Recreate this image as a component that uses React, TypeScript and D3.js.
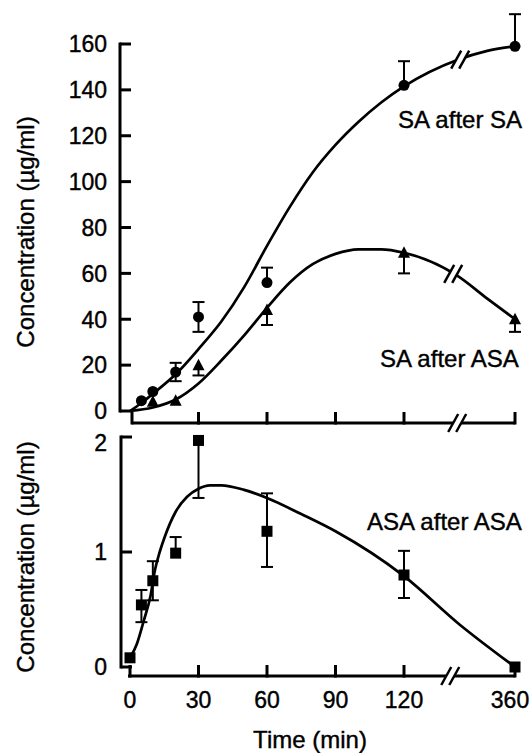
import React from 'react';
import * as d3 from 'd3';

const W = 531;
const H = 753;

const xTicks = [0, 30, 60, 90, 120, 360];
const topYTicks = [0, 20, 40, 60, 80, 100, 120, 140, 160];
const bottomYTicks = [0, 1, 2];

// SA after SA (circles)
const saSaTime = [5, 10, 20, 30, 60, 120, 360];
const saSaMean = [4.5, 8.5, 17, 41, 56, 142, 159];
const saSaErrUp = [0, 0, 4, 6.5, 6.5, 10.5, 14];
const saSaErrDown = [0, 0, 4, 6.5, 0, 0, 0];

// SA after ASA (triangles)
const saAsaTime = [10, 20, 30, 60, 120, 360];
const saAsaMean = [4, 4.5, 20, 44, 69, 40];
const saAsaErrUp = [0, 0, 0, 0, 0, 0];
const saAsaErrDown = [0, 0, 4.5, 6.5, 9, 5.5];

// ASA after ASA (squares)
const asaTime = [0, 5, 10, 20, 30, 60, 120, 360];
const asaMean = [0.08, 0.54, 0.75, 0.99, 1.97, 1.18, 0.8, 0];
const asaErrUp = [0, 0.13, 0.17, 0.14, 0, 0.33, 0.21, 0];
const asaErrDown = [0, 0.15, 0.17, 0, 0.5, 0.31, 0.2, 0];

// fitted curves
const saSaFitTime = [0, 5, 10, 20, 30, 40, 50, 60, 70, 80, 90, 100, 110, 120, 235, 300, 360];
const saSaFitValue = [0, 3.5, 7.5, 16, 27, 39, 54, 72, 89, 104, 116, 126, 134.5, 141.5, 153, 157, 159];

const saAsaFitTime = [0, 10, 20, 30, 40, 50, 60, 70, 80, 90, 100, 110, 120, 235, 300, 360];
const saAsaFitValue = [0, 1.5, 5, 12, 22, 33, 45, 56, 64, 68.5, 70.5, 70.5, 69, 59, 49, 40];

const asaFitTime = [0, 3, 6, 9, 11, 13, 15, 20, 25, 30, 35, 40, 50, 60, 75, 90, 120, 240, 360];
const asaFitValue = [0.08, 0.2, 0.4, 0.62, 0.85, 1.0, 1.12, 1.35, 1.48, 1.55, 1.58, 1.58, 1.54, 1.47, 1.33, 1.18, 0.79, 0.37, 0];

const FONT = '"Liberation Sans", Arial, Helvetica, sans-serif';

const x = d3.scaleLinear().domain([0, 120, 360]).range([130, 404, 515]);
const yTop = d3.scaleLinear().domain([0, 160]).range([411, 44]);
const yBot = d3.scaleLinear().domain([0, 2]).range([667, 437]);

const topAxisY = 423;
const botAxisY = 676;
const topAxisX = 120;
const botAxisX = 121;

function fitPath(ts: number[], vs: number[], y: d3.ScaleLinear<number, number>) {
  const line = d3
    .line<number>()
    .x((d, i) => x(ts[i]))
    .y((d) => y(d))
    .curve(d3.curveMonotoneX);
  return line(vs) || '';
}

// break mark "//" with white gap
function BreakMark({ cx, cy }: { cx: number; cy: number }) {
  const dx = 5, dy = 9, gap = 4;
  const l1 = [cx - gap - dx, cy + dy, cx - gap + dx, cy - dy];
  const l2 = [cx + gap - dx, cy + dy, cx + gap + dx, cy - dy];
  return (
    <g>
      <polygon
        points={`${l1[0]},${l1[1]} ${l1[2]},${l1[3]} ${l2[2]},${l2[3]} ${l2[0]},${l2[1]}`}
        fill="white"
        stroke="white"
        strokeWidth={1}
      />
      <line x1={l1[0]} y1={l1[1]} x2={l1[2]} y2={l1[3]} stroke="black" strokeWidth={2.5} />
      <line x1={l2[0]} y1={l2[1]} x2={l2[2]} y2={l2[3]} stroke="black" strokeWidth={2.5} />
    </g>
  );
}

function ErrorBars({ ts, ms, up, down, y }: any) {
  return (
    <g stroke="black" strokeWidth={2}>
      {ts.map((t: number, i: number) => {
        const cx = x(t);
        const out: any[] = [];
        if (up[i] > 0) {
          out.push(<line key={'u' + i} x1={cx} x2={cx} y1={y(ms[i])} y2={y(ms[i] + up[i])} />);
          out.push(<line key={'uc' + i} x1={cx - 6} x2={cx + 6} y1={y(ms[i] + up[i])} y2={y(ms[i] + up[i])} />);
        }
        if (down[i] > 0) {
          out.push(<line key={'d' + i} x1={cx} x2={cx} y1={y(ms[i])} y2={y(ms[i] - down[i])} />);
          out.push(<line key={'dc' + i} x1={cx - 6} x2={cx + 6} y1={y(ms[i] - down[i])} y2={y(ms[i] - down[i])} />);
        }
        return <g key={i}>{out}</g>;
      })}
    </g>
  );
}

export default function App() {
  const topBreakX = x(235);
  const botBreakX = x(220);

  return (
    <svg
      width={W}
      height={H}
      viewBox={`0 0 ${W} ${H}`}
      style={{ position: 'absolute', left: 0, top: 0, background: 'white' }}
      fontFamily={FONT}
    >
      <rect x={0} y={0} width={W} height={H} fill="white" />

      {/* ---------- top panel ---------- */}
      <g stroke="black" strokeWidth={3} fill="none">
        <line x1={topAxisX} x2={topAxisX} y1={yTop(160) - 1.5} y2={yTop(0) + 1.5} />
        {topYTicks.map((v) => (
          <line key={v} x1={topAxisX} x2={topAxisX + 11} y1={yTop(v)} y2={yTop(v)} />
        ))}
        <line x1={x(0) + 2} x2={x(360)} y1={topAxisY} y2={topAxisY} />
        {xTicks.map((t) => (
          <line key={t} x1={x(t) + (t === 0 ? 2 : 0)} x2={x(t) + (t === 0 ? 2 : 0)} y1={topAxisY + 1.5} y2={topAxisY - 11} />
        ))}
      </g>

      <g fill="black" stroke="black" strokeWidth={0.4}>
        <g fontSize={23} textAnchor="end">
          {topYTicks.map((v) => (
            <text key={v} x={107} y={yTop(v)} dy="0.36em">
              {v}
            </text>
          ))}
        </g>
      </g>

      <path d={fitPath(saSaFitTime, saSaFitValue, yTop)} fill="none" stroke="black" strokeWidth={2.7} />
      <path d={fitPath(saAsaFitTime, saAsaFitValue, yTop)} fill="none" stroke="black" strokeWidth={2.7} />

      <ErrorBars ts={saSaTime} ms={saSaMean} up={saSaErrUp} down={saSaErrDown} y={yTop} />
      <ErrorBars ts={saAsaTime} ms={saAsaMean} up={saAsaErrUp} down={saAsaErrDown} y={yTop} />

      {saSaTime.map((t, i) => (
        <circle key={t} cx={x(t)} cy={yTop(saSaMean[i])} r={5.5} fill="black" />
      ))}
      {saAsaTime.map((t, i) => {
        const cx = x(t);
        const cy = yTop(saAsaMean[i]);
        return <path key={t} d={`M${cx},${cy - 6.5} L${cx + 6},${cy + 5} L${cx - 6},${cy + 5} Z`} fill="black" />;
      })}

      <BreakMark cx={topBreakX} cy={topAxisY} />
      <BreakMark cx={topBreakX + 3} cy={yTop(d3.scaleLinear().domain(saSaFitTime).range(saSaFitValue)(238))} />
      <BreakMark cx={topBreakX - 4} cy={yTop(d3.scaleLinear().domain(saAsaFitTime).range(saAsaFitValue)(226))} />

      {/* ---------- bottom panel ---------- */}
      <g stroke="black" strokeWidth={3} fill="none">
        <line x1={botAxisX} x2={botAxisX} y1={yBot(2) - 1.5} y2={yBot(0) + 1.5} />
        {bottomYTicks.map((v) => (
          <line key={v} x1={botAxisX} x2={botAxisX + 11} y1={yBot(v)} y2={yBot(v)} />
        ))}
        <line x1={x(0) - 2} x2={x(360)} y1={botAxisY} y2={botAxisY} />
        {xTicks.map((t) => (
          <line key={t} x1={x(t)} x2={x(t)} y1={botAxisY + 1.5} y2={botAxisY - 11} />
        ))}
      </g>

      <path d={fitPath(asaFitTime, asaFitValue, yBot)} fill="none" stroke="black" strokeWidth={2.7} />
      <ErrorBars ts={asaTime} ms={asaMean} up={asaErrUp} down={asaErrDown} y={yBot} />
      {asaTime.map((t, i) => (
        <rect key={t} x={x(t) - 5.5} y={yBot(asaMean[i]) - 5.5} width={11} height={11} fill="black" />
      ))}

      <BreakMark cx={botBreakX} cy={botAxisY} />

      {/* texts */}
      <g fill="black" stroke="black" strokeWidth={0.4}>
        <g fontSize={23} textAnchor="end">
          {bottomYTicks.map((v) => (
            <text key={v} x={107} y={yBot(v) + (v === 2 ? 6 : 0)} dy="0.36em">
              {v}
            </text>
          ))}
        </g>
        <g fontSize={23} textAnchor="middle">
          {xTicks.map((t) => (
            <text key={t} x={x(t) - (t === 360 ? 5 : 0)} y={708}>
              {t}
            </text>
          ))}
        </g>

        <text x={398} y={128} fontSize={24}>SA after SA</text>
        <text x={380} y={367} fontSize={24}>SA after ASA</text>
        <text x={367} y={530} fontSize={24}>ASA after ASA</text>

        <text x={310} y={748} fontSize={24} textAnchor="middle">Time (min)</text>
        <text transform="translate(34,232) rotate(-90)" fontSize={24} textAnchor="middle">
          Concentration (µg/ml)
        </text>
        <text transform="translate(34,557) rotate(-90)" fontSize={24} textAnchor="middle">
          Concentration (µg/ml)
        </text>
      </g>
    </svg>
  );
}
